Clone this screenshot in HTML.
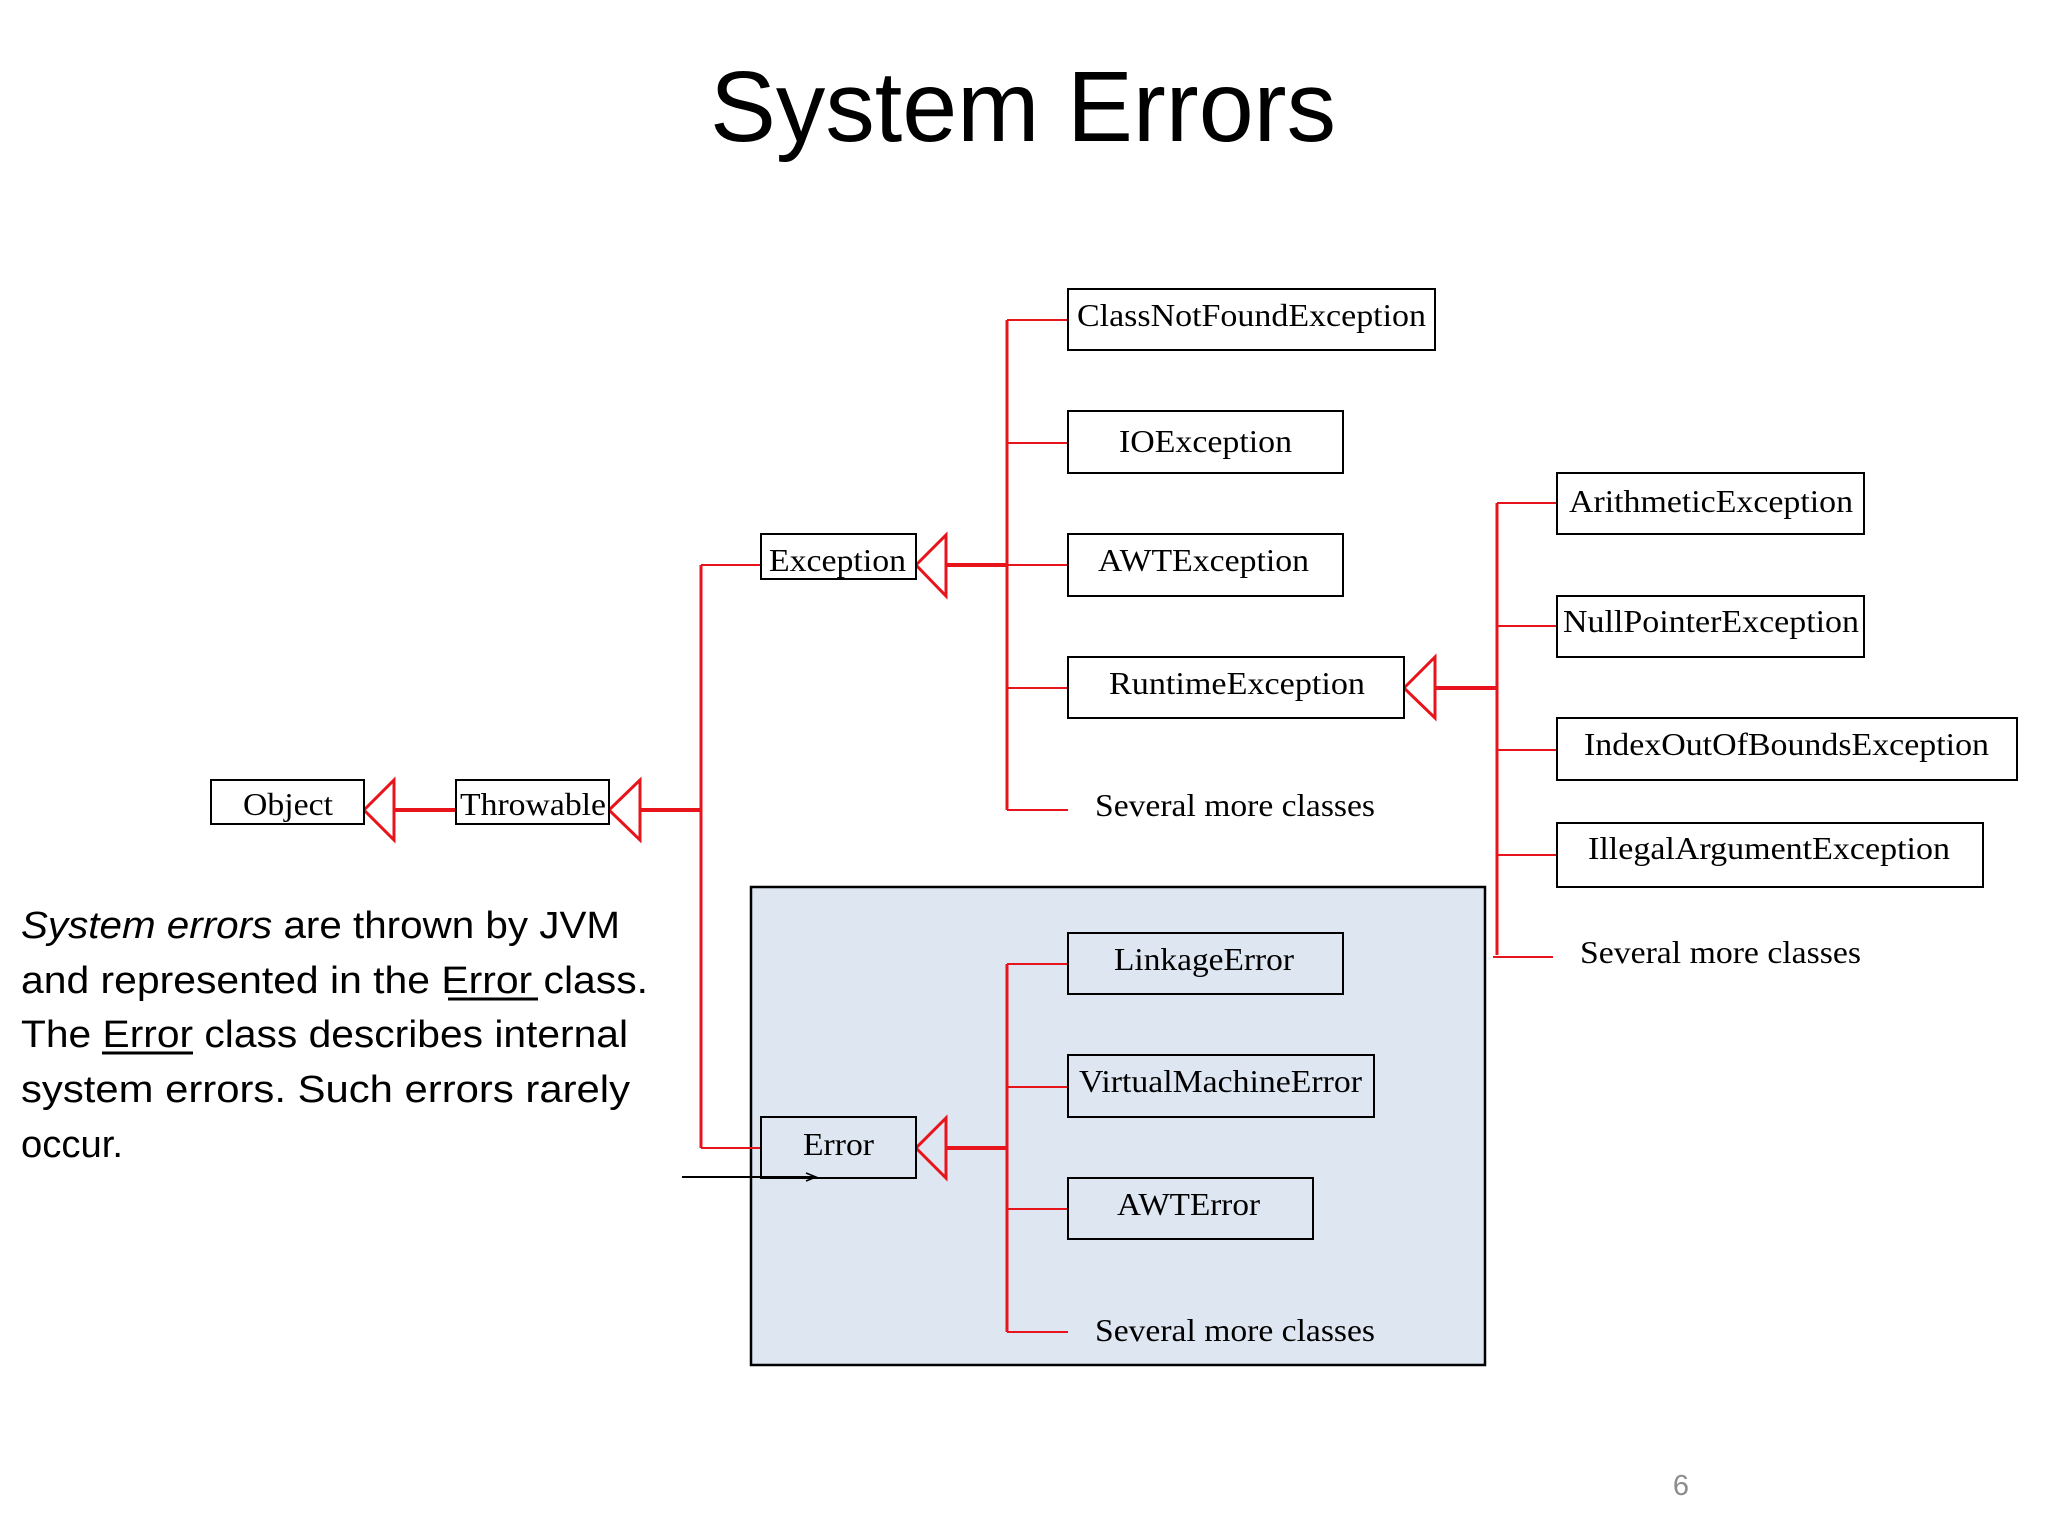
<!DOCTYPE html>
<html><head><meta charset="utf-8"><style>
html,body{margin:0;padding:0;background:#fff;}
svg{display:block;}
.b{fill:#fff;stroke:#000;stroke-width:2;}
.t{font-family:"Liberation Serif",serif;font-size:32px;fill:#000;}
.r{stroke:#e8141c;fill:none;}
.p{font-family:"Liberation Sans",sans-serif;font-size:38px;fill:#000;}
</style></head><body>
<svg width="2048" height="1536" viewBox="0 0 2048 1536" xmlns="http://www.w3.org/2000/svg">
<rect width="2048" height="1536" fill="#fff"/>
<text x="1023" y="141" text-anchor="middle" font-family="Liberation Sans, sans-serif" font-size="100" textLength="626" lengthAdjust="spacingAndGlyphs">System Errors</text>

<!-- blue box -->
<rect x="751" y="887" width="734" height="478" fill="#dee6f1" stroke="#000" stroke-width="2.5"/>

<!-- red connectors -->
<g class="r">
<line x1="1007" y1="320" x2="1007" y2="810" stroke-width="3"/>
<line x1="1007" y1="320" x2="1068" y2="320" stroke-width="2"/>
<line x1="1007" y1="443" x2="1068" y2="443" stroke-width="2"/>
<line x1="1007" y1="565" x2="1068" y2="565" stroke-width="2"/>
<line x1="1007" y1="688" x2="1068" y2="688" stroke-width="2"/>
<line x1="1007" y1="810" x2="1068" y2="810" stroke-width="2"/>
<line x1="946" y1="565" x2="1007" y2="565" stroke-width="4"/>
<polygon points="916,565 946,535 946,596" stroke-width="3"/>

<line x1="394" y1="810" x2="456" y2="810" stroke-width="4"/>
<polygon points="364,810 394,780 394,840" stroke-width="3"/>
<line x1="640" y1="810" x2="701" y2="810" stroke-width="4"/>
<polygon points="609,810 640,780 640,840" stroke-width="3"/>
<line x1="701" y1="565" x2="701" y2="1148" stroke-width="3"/>
<line x1="701" y1="565" x2="761" y2="565" stroke-width="2"/>
<line x1="701" y1="1148" x2="761" y2="1148" stroke-width="2"/>

<line x1="946" y1="1148" x2="1007" y2="1148" stroke-width="4"/>
<polygon points="916,1148 946,1118 946,1178" stroke-width="3"/>
<line x1="1007" y1="964" x2="1007" y2="1332" stroke-width="3"/>
<line x1="1007" y1="964" x2="1068" y2="964" stroke-width="2"/>
<line x1="1007" y1="1087" x2="1068" y2="1087" stroke-width="2"/>
<line x1="1007" y1="1209" x2="1068" y2="1209" stroke-width="2"/>
<line x1="1007" y1="1332" x2="1068" y2="1332" stroke-width="2"/>

<line x1="1435" y1="688" x2="1497" y2="688" stroke-width="4"/>
<polygon points="1404,688 1435,657 1435,718" stroke-width="3"/>
<line x1="1497" y1="503" x2="1497" y2="955" stroke-width="3"/>
<line x1="1497" y1="503" x2="1557" y2="503" stroke-width="2"/>
<line x1="1497" y1="626" x2="1557" y2="626" stroke-width="2"/>
<line x1="1497" y1="750" x2="1557" y2="750" stroke-width="2"/>
<line x1="1497" y1="855" x2="1557" y2="855" stroke-width="2"/>
<line x1="1493" y1="957" x2="1553" y2="957" stroke-width="2"/>
</g>

<!-- boxes -->
<rect class="b" x="1068" y="289" width="367" height="61"/>
<rect class="b" x="1068" y="411" width="275" height="62"/>
<rect class="b" x="1068" y="534" width="275" height="62"/>
<rect class="b" x="1068" y="657" width="336" height="61"/>
<rect class="b" x="761" y="534" width="155" height="45"/>
<rect class="b" x="211" y="780" width="153" height="44"/>
<rect class="b" x="456" y="780" width="153" height="44"/>
<rect class="b" x="761" y="1117" width="155" height="61" fill="#dee6f1" style="fill:#dee6f1"/>
<rect class="b" x="1068" y="933" width="275" height="61" style="fill:#dee6f1"/>
<rect class="b" x="1068" y="1055" width="306" height="62" style="fill:#dee6f1"/>
<rect class="b" x="1068" y="1178" width="245" height="61" style="fill:#dee6f1"/>
<rect class="b" x="1557" y="473" width="307" height="61"/>
<rect class="b" x="1557" y="596" width="307" height="61"/>
<rect class="b" x="1557" y="718" width="460" height="62"/>
<rect class="b" x="1557" y="823" width="426" height="64"/>

<!-- labels -->
<g class="t">
<text x="1077" y="326" textLength="349" lengthAdjust="spacingAndGlyphs">ClassNotFoundException</text>
<text x="1119" y="452" textLength="173" lengthAdjust="spacingAndGlyphs">IOException</text>
<text x="1098" y="571" textLength="211" lengthAdjust="spacingAndGlyphs">AWTException</text>
<text x="1109" y="694" textLength="256" lengthAdjust="spacingAndGlyphs">RuntimeException</text>
<text x="1095" y="816" textLength="280" lengthAdjust="spacingAndGlyphs">Several more classes</text>
<text x="769" y="571" textLength="137" lengthAdjust="spacingAndGlyphs">Exception</text>
<text x="243" y="815" textLength="90" lengthAdjust="spacingAndGlyphs">Object</text>
<text x="460" y="815" textLength="146" lengthAdjust="spacingAndGlyphs">Throwable</text>
<text x="803" y="1155" textLength="71" lengthAdjust="spacingAndGlyphs">Error</text>
<text x="1114" y="970" textLength="180" lengthAdjust="spacingAndGlyphs">LinkageError</text>
<text x="1079" y="1092" textLength="283" lengthAdjust="spacingAndGlyphs">VirtualMachineError</text>
<text x="1117" y="1215" textLength="143" lengthAdjust="spacingAndGlyphs">AWTError</text>
<text x="1095" y="1341" textLength="280" lengthAdjust="spacingAndGlyphs">Several more classes</text>
<text x="1569" y="512" textLength="284" lengthAdjust="spacingAndGlyphs">ArithmeticException</text>
<text x="1563" y="632" textLength="296" lengthAdjust="spacingAndGlyphs">NullPointerException</text>
<text x="1584" y="755" textLength="405" lengthAdjust="spacingAndGlyphs">IndexOutOfBoundsException</text>
<text x="1588" y="859" textLength="362" lengthAdjust="spacingAndGlyphs">IllegalArgumentException</text>
<text x="1580" y="963" textLength="281" lengthAdjust="spacingAndGlyphs">Several more classes</text>
</g>

<!-- black arrow -->
<line x1="682" y1="1177" x2="816" y2="1177" stroke="#000" stroke-width="2"/>
<polyline points="806,1173 816,1177 806,1181" fill="none" stroke="#000" stroke-width="1.5"/>

<!-- paragraph -->
<g class="p">
<text x="21" y="938" textLength="599" lengthAdjust="spacingAndGlyphs"><tspan font-style="italic">System errors</tspan> are thrown by JVM</text>
<text x="21" y="993" textLength="627" lengthAdjust="spacingAndGlyphs">and represented in the Error class.</text>
<text x="21" y="1047" textLength="607" lengthAdjust="spacingAndGlyphs">The Error class describes internal</text>
<text x="21" y="1102" textLength="609" lengthAdjust="spacingAndGlyphs">system errors. Such errors rarely</text>
<text x="21" y="1157" textLength="102" lengthAdjust="spacingAndGlyphs">occur.</text>
</g>
<line x1="448" y1="999" x2="538" y2="999" stroke="#000" stroke-width="3"/>
<line x1="102" y1="1053" x2="193" y2="1053" stroke="#000" stroke-width="3"/>

<text x="1681" y="1495" font-family="Liberation Sans, sans-serif" font-size="29" fill="#8c8c8c" text-anchor="middle">6</text>
</svg>
</body></html>
